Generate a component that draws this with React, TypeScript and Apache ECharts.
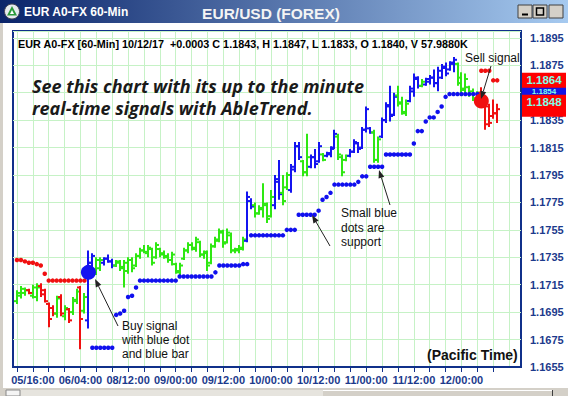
import React, { useEffect, useRef } from "react";
import * as echarts from "echarts";

const BASE = 1.1655;

const xTickLabels = ["05/16:00", "06/04:00", "08/12:00", "09/00:00", "09/12:00", "10/00:00", "10/12:00", "11/00:00", "11/12:00", "12/00:00"];

const trend = [
  "G","G","G","R","G","G","R","R","R","R",
  "G","R","G","R","G","G","R","G","B","B",
  "G","G","B","B","B","G","G","G","G","G",
  "G","G","G","G","G","G","G","G","G","G",
  "G","G","G","G","G","G","G","G","G","G",
  "G","G","G","G","G","G","G","G","B","B",
  "G","G","G","G","G","B","B","G","G","B",
  "B","B","G","G","B","B","B","G","B","B",
  "B","G","G","G","B","B","B","B","B","B",
  "G","G","B","B","B","B","G","G","G","B",
  "B","B","G","B","B","B","B","B","B","B",
  "B","G","G","G","G","G","G","R","R","R",
  "R","R",
];

const opens = [
  1.1703,1.1707,1.1709,1.1711,1.1707,1.1706,1.1714,1.1711,1.1701,1.1698,
  1.1694,1.1706,1.1692,1.1697,1.1695,1.1703,1.1713,1.1696,1.1689,1.1731,
  1.1726,1.1727,1.1731,1.1734,1.1732,1.1729,1.1731,1.1728,1.1725,1.1733,
  1.1729,1.1736,1.1740,1.1738,1.1741,1.1735,1.1741,1.1738,1.1735,1.1733,
  1.1730,1.1724,1.1734,1.1740,1.1744,1.1741,1.1746,1.1737,1.1738,1.1731,
  1.1743,1.1747,1.1753,1.1746,1.1751,1.1740,1.1740,1.1741,1.1747,1.1776,
  1.1773,1.1767,1.1770,1.1773,1.1765,1.1773,1.1790,1.1782,1.1786,1.1784,
  1.1799,1.1816,1.1805,1.1797,1.1801,1.1808,1.1805,1.1810,1.1809,1.1810,
  1.1815,1.1823,1.1808,1.1806,1.1809,1.1812,1.1818,1.1815,1.1828,1.1829,
  1.1826,1.1806,1.1823,1.1835,1.1845,1.1839,1.1853,1.1848,1.1840,1.1849,
  1.1856,1.1865,1.1860,1.1861,1.1863,1.1866,1.1862,1.1866,1.1873,1.1872,
  1.1876,1.1876,1.1866,1.1857,1.1859,1.1856,1.1850,1.1855,1.1849,1.1845,
  1.1838,1.1840,
];
const highs = [
  1.1711,1.1714,1.1713,1.1712,1.1715,1.1716,1.1716,1.1712,1.1702,1.1700,
  1.1707,1.1708,1.1700,1.1698,1.1706,1.1712,1.1714,1.1709,1.1740,1.1738,
  1.1735,1.1735,1.1735,1.1737,1.1734,1.1733,1.1733,1.1733,1.1735,1.1735,
  1.1738,1.1742,1.1744,1.1744,1.1742,1.1746,1.1742,1.1740,1.1738,1.1739,
  1.1731,1.1731,1.1742,1.1746,1.1746,1.1750,1.1747,1.1740,1.1740,1.1745,
  1.1750,1.1756,1.1755,1.1756,1.1753,1.1742,1.1744,1.1750,1.1783,1.1778,
  1.1775,1.1773,1.1789,1.1775,1.1784,1.1795,1.1806,1.1795,1.1797,1.1803,
  1.1819,1.1819,1.1806,1.1825,1.1810,1.1814,1.1819,1.1811,1.1812,1.1816,
  1.1828,1.1825,1.1810,1.1810,1.1814,1.1821,1.1819,1.1830,1.1845,1.1830,
  1.1828,1.1823,1.1837,1.1848,1.1860,1.1855,1.1860,1.1852,1.1850,1.1860,
  1.1869,1.1867,1.1865,1.1866,1.1868,1.1872,1.1874,1.1876,1.1877,1.1878,
  1.1881,1.1877,1.1870,1.1869,1.1860,1.1858,1.1856,1.1859,1.1852,1.1847,
  1.1850,1.1847,
];
const lows = [
  1.1701,1.1705,1.1707,1.1708,1.1705,1.1703,1.1706,1.1702,1.1684,1.1692,
  1.1691,1.1692,1.1689,1.1687,1.1693,1.1701,1.1668,1.1694,1.1683,1.1728,
  1.1722,1.1725,1.1729,1.1731,1.1727,1.1728,1.1725,1.1713,1.1723,1.1724,
  1.1728,1.1734,1.1738,1.1735,1.1729,1.1734,1.1735,1.1734,1.1731,1.1729,
  1.1723,1.1720,1.1733,1.1738,1.1740,1.1739,1.1735,1.1734,1.1725,1.1730,
  1.1742,1.1746,1.1742,1.1745,1.1738,1.1738,1.1738,1.1740,1.1746,1.1770,
  1.1764,1.1766,1.1764,1.1760,1.1764,1.1770,1.1777,1.1773,1.1784,1.1782,
  1.1797,1.1806,1.1794,1.1794,1.1800,1.1800,1.1804,1.1805,1.1808,1.1808,
  1.1814,1.1806,1.1794,1.1805,1.1808,1.1811,1.1811,1.1814,1.1826,1.1825,
  1.1804,1.1804,1.1822,1.1833,1.1834,1.1838,1.1845,1.1839,1.1838,1.1848,
  1.1852,1.1858,1.1859,1.1860,1.1861,1.1859,1.1856,1.1865,1.1867,1.1871,
  1.1870,1.1860,1.1855,1.1854,1.1852,1.1849,1.1847,1.1844,1.1828,1.1830,
  1.1836,1.1833,
];
const closes = [
  1.1709,1.1712,1.1711,1.1709,1.1713,1.1713,1.1708,1.1703,1.1690,1.1694,
  1.1705,1.1694,1.1698,1.1689,1.1704,1.1710,1.1690,1.1706,1.1731,1.1736,
  1.1733,1.1733,1.1734,1.1732,1.1729,1.1732,1.1727,1.1731,1.1733,1.1727,
  1.1736,1.1740,1.1739,1.1742,1.1731,1.1744,1.1737,1.1736,1.1733,1.1737,
  1.1725,1.1729,1.1740,1.1744,1.1742,1.1748,1.1737,1.1739,1.1729,1.1743,
  1.1748,1.1754,1.1745,1.1753,1.1740,1.1741,1.1742,1.1748,1.1779,1.1772,
  1.1767,1.1771,1.1774,1.1763,1.1779,1.1792,1.1781,1.1776,1.1795,1.1801,
  1.1816,1.1808,1.1797,1.1808,1.1808,1.1803,1.1816,1.1806,1.1811,1.1814,
  1.1825,1.1810,1.1797,1.1809,1.1812,1.1819,1.1814,1.1828,1.1843,1.1826,
  1.1806,1.1821,1.1835,1.1846,1.1838,1.1852,1.1847,1.1841,1.1847,1.1858,
  1.1866,1.1860,1.1863,1.1865,1.1866,1.1862,1.1871,1.1874,1.1869,1.1877,
  1.1879,1.1862,1.1858,1.1865,1.1854,1.1851,1.1855,1.1847,1.1832,1.1833,
  1.1840,1.1843,
];

// trailing stop dots (red, before buy / after sell)
const redStopStartA = 0;
const redStopA = [1.1733, 1.1733, 1.1732, 1.1731, 1.1731, 1.1730, 1.1729, 1.1723, 1.1718, 1.1718, 1.1718, 1.1718, 1.1718, 1.1718, 1.1718, 1.1718, 1.1718, 1.1718];
const redStopStartB = 117;
const redStopB = [1.1871, 1.1871, 1.1871, 1.1864, 1.1864];

// support dots (blue)
const supportStart = 19;
const blueSupport = [
  1.1669, 1.1669, 1.1669, 1.1669, 1.1669, 1.1669,
  1.1693, 1.1694, 1.1696, 1.1706, 1.1707, 1.1713,
  1.1718, 1.1718, 1.1718, 1.1718, 1.1718, 1.1718, 1.1718, 1.1718, 1.1718, 1.1718,
  1.1721, 1.1721, 1.1721, 1.1721, 1.1721, 1.1721, 1.1721, 1.1721, 1.1721,
  1.1724,
  1.1729, 1.1729, 1.1729, 1.1729, 1.1729, 1.1729,
  1.1730, 1.1730,
  1.1751, 1.1751, 1.1751, 1.1751, 1.1751, 1.1751, 1.1751, 1.1751, 1.1751,
  1.1755, 1.1755, 1.1755,
  1.1766, 1.1766, 1.1766, 1.1766, 1.1766,
  1.1769, 1.1777, 1.1779, 1.1782,
  1.1788, 1.1788, 1.1788, 1.1788, 1.1788, 1.1788,
  1.1790, 1.1794, 1.1794,
  1.1801, 1.1801, 1.1801, 1.1801,
  1.1810, 1.1810, 1.1810, 1.1810, 1.1810, 1.1810, 1.1810,
  1.1818, 1.1827, 1.1827, 1.1834, 1.1837, 1.1837, 1.1841, 1.1845, 1.1852,
  1.1854, 1.1854, 1.1854, 1.1854, 1.1854, 1.1854, 1.1854, 1.1854,
];

const buySignal = { index: 18, price: 1.1724 };
const sellSignal = { index: 117, price: 1.1849 };

// price markers on the right scale (drawn in this order)
const priceMarkers = [
  { price: 1.1854, color: "#1414e6", label: true, size: 8 },
  { price: 1.1843, color: "#ff0000", label: false, size: 11.5 },
  { price: 1.1848, color: "#ff0000", label: true, size: 11.5 },
  { price: 1.1864, color: "#ff0000", label: true, size: 11.5 },
];
// axis label hidden under the price markers
const hiddenAxisLabel = "1.1855";

const SLOTS = 129; // category slots, slot k = bar index k-1
const toV = (p: number) => Math.round((p - BASE) * 100000) / 10;

const COLORS: Record<string, string> = { G: "#2ee812", B: "#1414f0", R: "#f01010" };
const AXIS_BLUE = "#1c3a8c";
const FONT = "'Liberation Sans', Arial, sans-serif";

function arrow(x1: number, y1: number, x2: number, y2: number) {
  const dx = x2 - x1, dy = y2 - y1;
  const len = Math.hypot(dx, dy);
  const ux = dx / len, uy = dy / len;
  const hl = 8, hw = 3;
  const bx = x2 - ux * hl, by = y2 - uy * hl;
  return [
    { type: "line", z: 100, silent: true, shape: { x1, y1, x2: bx, y2: by }, style: { stroke: "#222", lineWidth: 1 } },
    {
      type: "polygon", z: 100, silent: true,
      shape: { points: [[x2, y2], [bx - uy * hw, by + ux * hw], [bx + uy * hw, by - ux * hw]] },
      style: { fill: "#222" },
    },
  ];
}

function txt(text: string, x: number, y: number, font: string, fill = "#111", align = "left") {
  return {
    type: "text", z: 100, silent: true, x, y,
    style: { text, font, fill, align, verticalAlign: "middle", textAlign: align, textVerticalAlign: "middle" },
  };
}

export default function App() {
  const ref = useRef<HTMLDivElement>(null);

  useEffect(() => {
    if (!ref.current) return;
    const chart = echarts.init(ref.current, null, { renderer: "svg" });

    const categories = Array.from({ length: SLOTS }, (_, k) => {
      const i = k - 1;
      if (i >= 4 && (i - 4) % 12 === 0 && (i - 4) / 12 < xTickLabels.length) return xTickLabels[(i - 4) / 12];
      return "";
    });

    const ohlc = opens.map((o, i) => [i + 1, toV(o), toV(highs[i]), toV(lows[i]), toV(closes[i])]);
    const supportData = blueSupport.map((v, k) => [k + supportStart + 1, toV(v)]);
    const redData = [
      ...redStopA.map((v, k) => [k + redStopStartA + 1, toV(v)]),
      ...redStopB.map((v, k) => [k + redStopStartB + 1, toV(v)]),
    ];

    const option: any = {
      animation: false,
      backgroundColor: "#ffffff",
      grid: { left: 13, right: 47, top: 31, bottom: 29, show: true, borderColor: "#10308a", borderWidth: 2, backgroundColor: "#ffffff" },
      xAxis: {
        type: "category",
        data: categories,
        boundaryGap: false,
        axisLine: { show: true, lineStyle: { color: "#10308a", width: 2 } },
        axisTick: {
          show: true, length: 5, lineStyle: { color: "#10308a", width: 1 },
          interval: (idx: number) => { const i = idx - 1; return i >= 0 && i % 4 === 0 && i <= 120; },
        },
        axisLabel: {
          show: true, margin: 7, color: AXIS_BLUE, fontWeight: "bold", fontSize: 11, fontFamily: FONT,
          interval: (idx: number, value: string) => value !== "",
        },
        splitLine: {
          show: true, lineStyle: { color: "#c6f2c6", width: 1 },
          interval: (idx: number) => { const i = idx - 1; return i >= 0 && i % 4 === 0; },
        },
      },
      yAxis: {
        type: "value",
        position: "right",
        min: 0,
        max: 245,
        interval: 20,
        axisLine: { show: false },
        axisTick: { show: false },
        axisLabel: {
          margin: 9, color: AXIS_BLUE, fontWeight: "bold", fontSize: 11, fontFamily: FONT,
          formatter: (v: number) => {
            const s = (BASE + v / 10000).toFixed(4);
            return s === hiddenAxisLabel ? "" : s;
          },
        },
        splitLine: { show: true, lineStyle: { color: "#c6f2c6", width: 1 } },
      },
      series: [
        {
          type: "custom",
          clip: true,
          z: 3,
          data: ohlc,
          encode: { x: 0, y: [1, 2, 3, 4] },
          renderItem: (params: any, api: any) => {
            const idx = api.value(0);
            const pO = api.coord([idx, api.value(1)]);
            const pH = api.coord([idx, api.value(2)]);
            const pL = api.coord([idx, api.value(3)]);
            const pC = api.coord([idx, api.value(4)]);
            const col = COLORS[trend[params.dataIndex]];
            const x = Math.round(pH[0]);
            return {
              type: "group",
              children: [
                { type: "line", shape: { x1: x, y1: pH[1], x2: x, y2: pL[1] }, style: { stroke: col, lineWidth: 2 } },
                { type: "line", shape: { x1: x - 3, y1: pO[1], x2: x, y2: pO[1] }, style: { stroke: col, lineWidth: 2 } },
                { type: "line", shape: { x1: x, y1: pC[1], x2: x + 3, y2: pC[1] }, style: { stroke: col, lineWidth: 2 } },
              ],
            };
          },
        },
        {
          type: "scatter", z: 4, symbol: "circle", symbolSize: 4.5, silent: true,
          itemStyle: { color: "#1010ee", opacity: 1 }, data: supportData,
        },
        {
          type: "scatter", z: 4, symbol: "circle", symbolSize: 4.5, silent: true,
          itemStyle: { color: "#f01010", opacity: 1 }, data: redData,
        },
        {
          type: "scatter", z: 5, symbol: "circle", symbolSize: 15, silent: true,
          itemStyle: { color: "#1414f0", opacity: 1 }, data: [[buySignal.index + 1, toV(buySignal.price)]],
        },
        {
          type: "scatter", z: 5, symbol: "circle", symbolSize: 15, silent: true,
          itemStyle: { color: "#f01010", opacity: 1 }, data: [[sellSignal.index + 1, toV(sellSignal.price)]],
        },
      ],
    };
    chart.setOption(option);

    const graphics: any[] = [];
    // title bar
    graphics.push({
      type: "rect", z: 100, silent: true, shape: { x: 0, y: 0, width: 568, height: 23 },
      style: { fill: new echarts.graphic.LinearGradient(0, 0, 1, 0, [{ offset: 0, color: "#0a246a" }, { offset: 1, color: "#a6caf0" }]) },
    });
    graphics.push({ type: "circle", z: 101, silent: true, shape: { cx: 12, cy: 11.5, r: 7.5 }, style: { fill: "#e6eaee", stroke: "#445", lineWidth: 1 } });
    graphics.push({ type: "polygon", z: 102, silent: true, shape: { points: [[12, 6], [7, 15.5], [17, 15.5]] }, style: { fill: "#2a9a3a" } });
    graphics.push({ type: "polygon", z: 103, silent: true, shape: { points: [[12, 10], [10, 14], [14, 14]] }, style: { fill: "#ffffff" } });
    graphics.push(txt("EUR A0-FX 60-Min", 24, 11.5, `bold 12px ${FONT}`, "#ffffff"));
    graphics.push(txt("EUR/USD (FOREX)", 271, 13, `bold 15.5px ${FONT}`, "#f4f4f4", "center"));
    [518, 533, 549].forEach((bx, k) => {
      graphics.push({ type: "rect", z: 101, silent: true, shape: { x: bx, y: 5, width: 14, height: 13 }, style: { fill: "#d4d0c8", stroke: "#404040", lineWidth: 1 } });
      if (k === 0) graphics.push({ type: "line", z: 102, silent: true, shape: { x1: bx + 4, y1: 14.5, x2: bx + 10, y2: 14.5 }, style: { stroke: "#000", lineWidth: 2 } });
      if (k === 1) graphics.push({ type: "rect", z: 102, silent: true, shape: { x: bx + 3.5, y: 8, width: 7, height: 7 }, style: { fill: "none", stroke: "#000", lineWidth: 1.5 } });
      if (k === 2) graphics.push(txt("X", bx + 7, 12, `bold 11px ${FONT}`, "#000", "center"));
    });
    // window frame
    graphics.push({ type: "rect", z: 100, silent: true, shape: { x: 0, y: 23, width: 3, height: 373 }, style: { fill: "#d4d0c8" } });
    graphics.push({ type: "rect", z: 100, silent: true, shape: { x: 0, y: 388, width: 568, height: 8 }, style: { fill: "#d4d0c8" } });
    graphics.push({ type: "rect", z: 101, silent: true, shape: { x: 20, y: 390, width: 303, height: 6 }, style: { fill: "#e6e4de" } });
    graphics.push({ type: "rect", z: 101, silent: true, shape: { x: 6, y: 390, width: 14, height: 6 }, style: { fill: "#f4f4f4", stroke: "#888", lineWidth: 1 } });
    graphics.push({ type: "line", z: 101, silent: true, shape: { x1: 323, y1: 390.5, x2: 552, y2: 390.5 }, style: { stroke: "#ffffff", lineWidth: 1 } });
    graphics.push({ type: "line", z: 101, silent: true, shape: { x1: 552.5, y1: 390, x2: 552.5, y2: 396 }, style: { stroke: "#404040", lineWidth: 1 } });

    // texts inside plot
    graphics.push(txt("EUR A0-FX [60-Min] 10/12/17  +0.0003 C 1.1843, H 1.1847, L 1.1833, O 1.1840, V 57.9880K", 18, 44, `bold 10.8px ${FONT}`, "#000"));
    graphics.push(txt("See this chart with its up to the minute", 32, 86, "italic bold 18px 'Open Sans', sans-serif", "#1a1a1a"));
    graphics.push(txt("real-time signals with AbleTrend.", 32, 108, "italic bold 18px 'Open Sans', sans-serif", "#1a1a1a"));
    graphics.push(txt("Sell signal", 465, 58, `12px ${FONT}`));
    graphics.push(txt("Small blue", 341, 213, `12px ${FONT}`));
    graphics.push(txt("dots are", 341, 228, `12px ${FONT}`));
    graphics.push(txt("support", 341, 242, `12px ${FONT}`));
    graphics.push(txt("Buy signal", 122, 326, `12px ${FONT}`));
    graphics.push(txt("with blue dot", 122, 340, `12px ${FONT}`));
    graphics.push(txt("and blue bar", 122, 354, `12px ${FONT}`));
    graphics.push(txt("(Pacific Time)", 427, 355, `bold 14px ${FONT}`, "#111"));
    graphics.push(...arrow(491, 66, 481, 99));
    graphics.push(...arrow(330, 246, 312, 215));
    graphics.push(...arrow(390, 205, 379, 170));
    graphics.push(...arrow(118, 326, 95, 279));

    // price markers on right scale
    priceMarkers.forEach((m) => {
      const y = chart.convertToPixel({ yAxisIndex: 0 }, toV(m.price)) as number;
      graphics.push({ type: "rect", z: 104, silent: true, shape: { x: 522, y: y - 7.5, width: 44, height: 15 }, style: { fill: m.color } });
      if (m.label) {
        const ty = m.price === 1.1854 ? y - 3 : y;
        graphics.push({ ...txt(m.price.toFixed(4), 544, ty, `bold ${m.size}px ${FONT}`, "#80ffe8", "center"), z: 105 });
      }
    });

    chart.setOption({ graphic: { elements: graphics } });

    return () => chart.dispose();
  }, []);

  return <div ref={ref} style={{ position: "absolute", left: 0, top: 0, width: 568, height: 396 }} />;
}
